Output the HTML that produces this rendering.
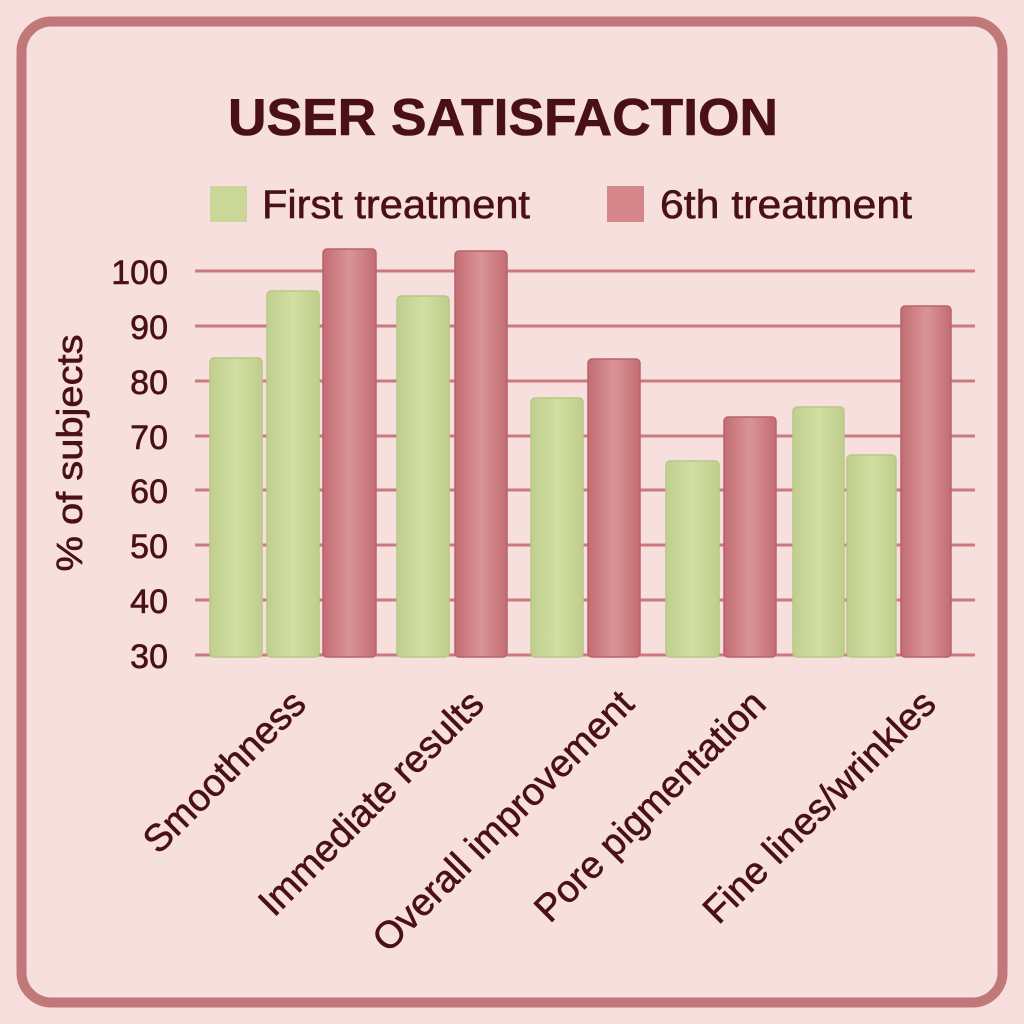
<!DOCTYPE html>
<html><head><meta charset="utf-8"><style>
html,body{margin:0;padding:0;background:#f5dedb;}
svg{display:block}
text{font-family:"Liberation Sans","DejaVu Sans",sans-serif;fill:#4a1018;stroke:#4a1018;stroke-width:0.6;}
</style></head><body>
<svg width="1024" height="1024" viewBox="0 0 1024 1024" xmlns="http://www.w3.org/2000/svg">
<defs>
<linearGradient id="g" x1="0" x2="1" y1="0" y2="0">
<stop offset="0" stop-color="#bfcf8e"/><stop offset="0.5" stop-color="#d2dea2"/><stop offset="1" stop-color="#bfce8c"/>
</linearGradient>
<linearGradient id="r" x1="0" x2="1" y1="0" y2="0">
<stop offset="0" stop-color="#c26d73"/><stop offset="0.5" stop-color="#d99497"/><stop offset="1" stop-color="#c26d73"/>
</linearGradient>
</defs>
<rect width="1024" height="1024" fill="#f5dedb"/>
<rect x="21.5" y="21.5" width="981" height="981" rx="30" fill="#f6dfdc" stroke="#c2777a" stroke-width="10"/>
<text x="503" y="135" text-anchor="middle" font-size="52" font-weight="bold" textLength="550" lengthAdjust="spacingAndGlyphs">USER SATISFACTION</text>
<rect x="210" y="186" width="37" height="36" fill="#cbd798"/>
<text x="262" y="218" font-size="40" textLength="268" lengthAdjust="spacingAndGlyphs">First treatment</text>
<rect x="607" y="186" width="37" height="36" fill="#d4868a"/>
<text x="660" y="218" font-size="40" textLength="252" lengthAdjust="spacingAndGlyphs">6th treatment</text>
<g stroke="#c97a7e" stroke-width="3">
<line x1="195" x2="975" y1="271" y2="271"/>
<line x1="195" x2="975" y1="326" y2="326"/>
<line x1="195" x2="975" y1="381" y2="381"/>
<line x1="195" x2="975" y1="436" y2="436"/>
<line x1="195" x2="975" y1="490" y2="490"/>
<line x1="195" x2="975" y1="545" y2="545"/>
<line x1="195" x2="975" y1="600" y2="600"/>
<line x1="195" x2="975" y1="655" y2="655"/>
</g>
<g font-size="34" text-anchor="end">
<text x="168" y="284">100</text>
<text x="168" y="339">90</text>
<text x="168" y="394">80</text>
<text x="168" y="449">70</text>
<text x="168" y="503">60</text>
<text x="168" y="558">50</text>
<text x="168" y="613">40</text>
<text x="168" y="668">30</text>
</g>
<text transform="translate(82,453) rotate(-90)" font-size="36" text-anchor="middle" textLength="237" lengthAdjust="spacingAndGlyphs">% of subjects</text>
<g stroke-width="1.5">
<rect x="210" y="358" width="52" height="299" rx="4" fill="url(#g)" stroke="#b8c788"/>
<rect x="267" y="291" width="52" height="366" rx="4" fill="url(#g)" stroke="#b8c788"/>
<rect x="323" y="249" width="53" height="408" rx="4" fill="url(#r)" stroke="#b86268"/>
<rect x="397" y="296" width="52" height="361" rx="4" fill="url(#g)" stroke="#b8c788"/>
<rect x="455" y="251" width="52" height="406" rx="4" fill="url(#r)" stroke="#b86268"/>
<rect x="531" y="398" width="52" height="259" rx="4" fill="url(#g)" stroke="#b8c788"/>
<rect x="588" y="359" width="52" height="298" rx="4" fill="url(#r)" stroke="#b86268"/>
<rect x="666" y="461" width="53" height="196" rx="4" fill="url(#g)" stroke="#b8c788"/>
<rect x="724" y="417" width="52" height="240" rx="4" fill="url(#r)" stroke="#b86268"/>
<rect x="793" y="407" width="51" height="250" rx="4" fill="url(#g)" stroke="#b8c788"/>
<rect x="847" y="455" width="49" height="202" rx="4" fill="url(#g)" stroke="#b8c788"/>
<rect x="901" y="306" width="50" height="351" rx="4" fill="url(#r)" stroke="#b86268"/>
</g>
<g font-size="38" text-anchor="end">
<text transform="translate(308,706) rotate(-45)">Smoothness</text>
<text transform="translate(486,706) rotate(-45)">Immediate results</text>
<text transform="translate(636,706) rotate(-45)">Overall improvement</text>
<text transform="translate(768,706) rotate(-45)">Pore pigmentation</text>
<text transform="translate(938,706) rotate(-45)">Fine lines/wrinkles</text>
</g>
</svg>
</body></html>
